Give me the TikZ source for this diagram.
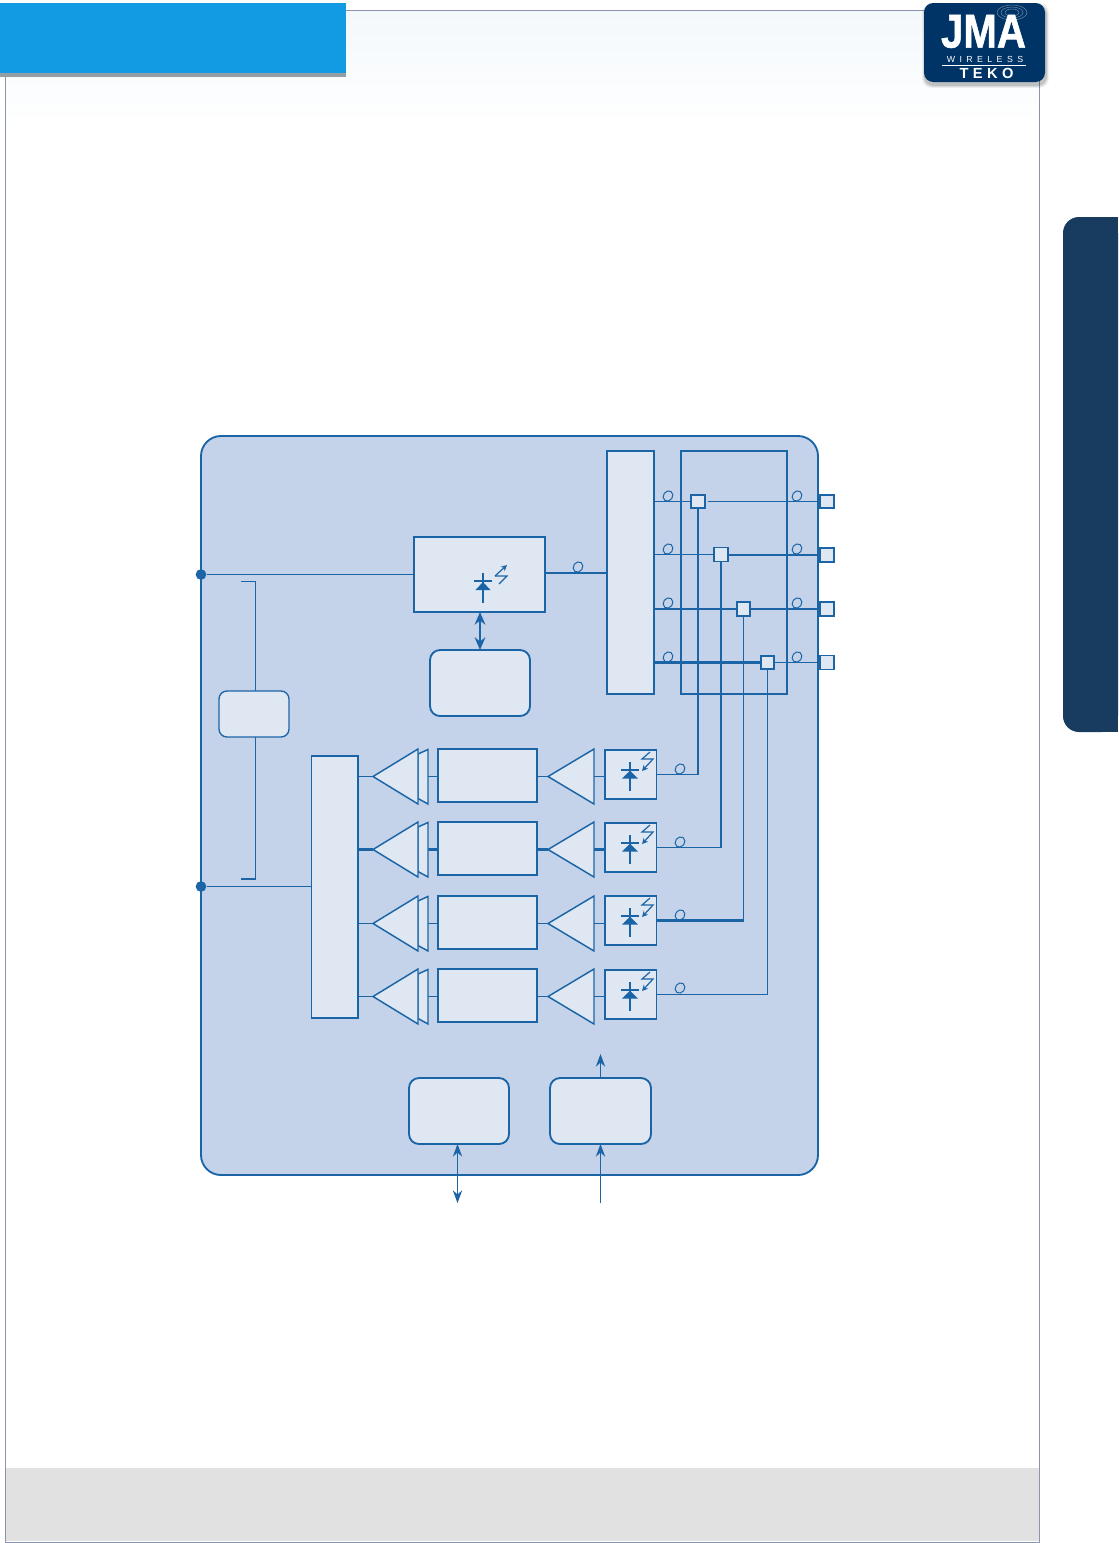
\documentclass[tikz,border=0pt]{standalone}
\usepackage{fontspec}
\usepackage{graphicx}
\setmainfont{Liberation Sans}
\definecolor{ln}{HTML}{1B65A6}
\definecolor{panel}{HTML}{C4D3E9}
\definecolor{boxf}{HTML}{DFE7F3}
\definecolor{frameln}{HTML}{8A94B0}
\definecolor{hdr}{HTML}{129AE2}
\definecolor{hdrb}{HTML}{969EA5}
\definecolor{foot}{HTML}{E1E1E1}
\definecolor{tabc}{HTML}{173C5F}
\definecolor{logoc}{HTML}{003366}
\definecolor{wash}{HTML}{F3F8FB}
\usetikzlibrary{arrows.meta}
\tikzset{
  x=0.75pt,y=-0.75pt,
  sz/.style 2 args={minimum width=#1*0.75pt,minimum height=#2*0.75pt},
  thinl/.style={draw=ln,line width=0.8pt},
  thickl/.style={draw=ln,line width=1.6pt},
  boxa/.style={draw=ln,fill=boxf,line width=1.4pt,inner sep=0pt,outer sep=0pt},
  rbox/.style={boxa,rounded corners=7.5pt,line width=1.4pt},
  sq/.style={boxa,line width=1.8pt,sz={13.5}{13.5}},
  sqthin/.style={boxa,line width=1.1pt,sz={14}{14}},
  tri/.style={draw=ln,fill=boxf,line width=1.1pt,line join=miter},
  loopm/.style={draw=ln,line width=0.75pt},
  port/.style={circle,fill=ln,inner sep=0pt,minimum size=8pt},
  dbl/.style={draw=ln,line width=1.7pt,{Stealth[length=9.5pt,width=8pt]}-{Stealth[length=9.5pt,width=8pt]}},
  sarrow/.style={draw=ln,line width=0.8pt,-{Stealth[length=9.5pt,width=7pt]}},
  sdbl/.style={draw=ln,line width=0.8pt,{Stealth[length=9.5pt,width=7pt]}-{Stealth[length=9.5pt,width=7pt]}},
  symb/.style={draw=ln,line width=1.2pt},
  symt/.style={draw=ln,line width=0.9pt},
}
\begin{document}
\begin{tikzpicture}
\useasboundingbox (0,0) rectangle (1118,1543);
\fill[white] (0,0) rectangle (1118,1543);
% page
\shade[top color=wash,bottom color=white] (6,11) rectangle (1038,125);
\fill[foot] (6,1468) rectangle (1039,1541);
\draw[frameln,line width=0.6pt] (5.5,10.5) rectangle (1039,1542);
\fill[hdrb] (0,73) rectangle (346,77);
\fill[hdr] (0,3) rectangle (346,73);
% side tab
\fill[tabc,rounded corners=12pt] (1118,217) -- (1063,217) -- (1063,732) -- (1118,732) -- cycle;
\fill[tabc] (1100,217) rectangle (1118,732);
% logo
\foreach \d/\o in {3/0.05,2/0.08,1/0.12}{
  \fill[black,opacity=\o,rounded corners=7pt] (924-\d+1,3-\d+3) rectangle (1045+\d+1,82+\d+3);
}
\fill[logoc,rounded corners=7pt] (924,3) rectangle (1045,82);
\begin{scope}
\clip (985,3) rectangle (1040,30);
\draw[logoc!55!white,line width=0.35pt] (1012,12.5) ellipse (15 and 7.5) ellipse (11 and 5.5) ellipse (7 and 3.5);
\end{scope}
\node[inner sep=0pt,text=white] (logoj) at (983.5,31.5) {\scalebox{0.85}[1]{\fontspec{Liberation Sans Bold}[FakeBold=1.2]\fontsize{35.5pt}{35.5pt}\selectfont JMA}};
\node[inner sep=0pt,text=white] (logow) at (985,59) {\fontspec{Liberation Sans}[LetterSpace=50]\fontsize{6.6pt}{6.6pt}\selectfont WIRELESS};
\draw[white,line width=0.8pt] (942,65.5) -- (1026,65.5);
\node[inner sep=0pt,text=white] (logot) at (986.5,73.5) {\fontspec{Liberation Sans Bold}[LetterSpace=30]\fontsize{11pt}{11pt}\selectfont TEKO};
% main panel
\draw[fill=panel,draw=ln,line width=1.4pt,rounded corners=15pt] (201,436) rectangle (818,1175);
% boxes
\node[boxa,sz={47}{243},anchor=north west] (split) at (607,451) {};
\node[draw=ln,line width=1.5pt,sz={106}{243},anchor=north west,inner sep=0pt,outer sep=0pt] (frame) at (681,451) {};
\node[boxa,sz={131}{75},anchor=north west] (laser) at (414,537) {};
\node[rbox,sz={100}{66},anchor=north west] (ctrl) at (430,650) {};
\node[rbox,sz={70}{46},anchor=north west,rounded corners=6pt,line width=1pt] (psu) at (219,691) {};
\node[boxa,sz={46.5}{262},anchor=north west,line width=1.3pt] (comb) at (311.5,756) {};
\node[rbox,sz={100}{66},anchor=north west] (bl) at (409,1078) {};
\node[rbox,sz={101}{66},anchor=north west] (br) at (550,1078) {};
% ports
\node[port] (pa) at (201,574.5) {};
\node[port] (pb) at (201,886.5) {};
\coordinate (brt) at (241,581.5); \coordinate (brb) at (241,879);
\draw[draw=ln,line width=0.8pt] (brt) -| (psu.north -| 255.5,0);
\draw[draw=ln,line width=0.8pt] (255.5,879) -- (psu.south -| 255.5,0);
\draw[draw=ln,line width=1.3pt] (brb) -- (256,879);
\draw[thinl] (pa) -- (laser.west |- pa);
\draw[thinl] (pb) -- (comb.west |- pb);
\coordinate (laserout) at (laser.east |- 0,573);
\draw[thickl] (laserout) -- (split.west |- laserout);
\draw[dbl] (laser.south -| 480,0) -- (ctrl.north -| 480,0);
\coordinate (arrtop) at (600.5,1054);
\coordinate (arrbot) at (600.5,1203);
\coordinate (dbot) at (457.5,1203);
\draw[sarrow] (br.north -| arrtop) -- (arrtop);
\draw[sarrow] (arrbot) -- (br.south -| arrbot);
\draw[sdbl] (bl.south -| dbot) -- (dbot);
% output squares and couplers
\node[sq] (out1) at (827,501.5) {};
\node[sqthin] (out2) at (827,555) {};
\node[sq] (out3) at (827,609) {};
\node[sqthin] (out4) at (827,662.5) {};
\node[sq] (c1) at (698,501.5) {};
\node[sqthin] (c2) at (721,554.5) {};
\node[sq] (c3) at (743.5,609) {};
\node[sq] (c4) at (767.5,662.5) {};
\coordinate (c2r) at (c2.east |- out2);
\draw[thinl] (split.east |- c1) -- (c1.west);
\draw[thinl] (707.5,501.5) -- (out1.west);
\draw[thinl] (split.east |- c2) -- (c2.west);
\draw[thickl] (c2r) -- (out2.west);
\draw[thickl] (split.east |- c3) -- (c3.west);
\draw[thickl] (c3.east) -- (out3.west);
\draw[thickl] (split.east |- c4) -- (c4.west);
\draw[thinl] (c4.east) -- (out4.west);
% rows
\foreach \i/\ya/\yb/\yc/\wa in {1/749/750/776.5/thinl,2/822/823/849.5/thickl,3/896/896/923.5/thinl,4/969/970/996.5/thinl}{
  \coordinate (tipb\i) at (373,\yc);
  \coordinate (baseb\i) at (428,\yc);
  \coordinate (tipc\i) at (548,\yc);
  \coordinate (basec\i) at (594,\yc);
  \node[boxa,sz={99}{53},anchor=north west] (amp\i) at (438,\ya) {};
  \node[boxa,sz={51.5}{49},anchor=north west,line width=1.2pt] (det\i) at (605,\yb) {};
  \draw[\wa] (comb.east |- tipb\i) -- (tipb\i);
  \draw[\wa] (baseb\i) -- (amp\i.west |- baseb\i);
  \draw[\wa] (amp\i.east |- tipc\i) -- (tipc\i);
  \draw[\wa] (basec\i) -- (det\i.west |- basec\i);
  \draw[tri] (418,\ya+5) -- (428,\ya+0.5) -- (428,\ya+55) -- (418,\ya+49.5) -- cycle;
  \draw[tri] (tipb\i) -- (418,\ya) -- (418,\ya+55) -- cycle;
  \draw[tri] (tipc\i) -- (594,\ya) -- (594,\ya+55) -- cycle;
  % detector symbol
  \begin{scope}[shift={(630,\yb+20)}]
    \draw[symb] (0,-8) -- (0,21);
    \draw[symt] (-9,0) -- (9,0);
    \fill[ln] (0,0.5) -- (-8,8.5) -- (8,8.5) -- cycle;
    \draw[symt,-{Stealth[length=4.5pt,width=4.5pt]}] (20,-18) -- (12,-11) -- (23,-11) -- (12,1);
  \end{scope}
}
% verticals
\draw[thickl] (c1.south) -- (c1.south |- det1.east);
\draw[thinl] (c1.south |- det1.east) -- (det1.east);
\draw[thickl] (c2.south) -- (c2.south |- det2.east);
\draw[thinl] (c2.south |- det2.east) -- (det2.east);
\draw[thinl] (c3.south) -- (c3.south |- det3.east);
\draw[thickl] (c3.south |- det3.east) -- (det3.east);
\draw[thinl] (c4.south) -- (c4.south |- det4.east) -- (det4.east);
% laser symbol
\begin{scope}[shift={(483,581)}]
  \draw[symb] (0,-8) -- (0,22);
  \draw[symt] (-9,0) -- (9,0);
  \fill[ln] (0,1) -- (-7.5,9) -- (7.5,9) -- cycle;
  \draw[symt,-{Stealth[length=4.5pt,width=4.5pt]}] (12,-5) -- (24,-16);
  \draw[symt] (12,-5) -- (24,-5) -- (16,3);
\end{scope}
% fibre loops
\foreach \x/\y in {668/496,668/549,668/603,668/657,797/496,797/549,797/603,797/657,578/567,680/769,680/842,680/915,680/988}{
  \draw[loopm,shift={(\x,\y)},rotate=55] (0,0) ellipse (5.4 and 4.6);
}
\end{tikzpicture}
\end{document}
